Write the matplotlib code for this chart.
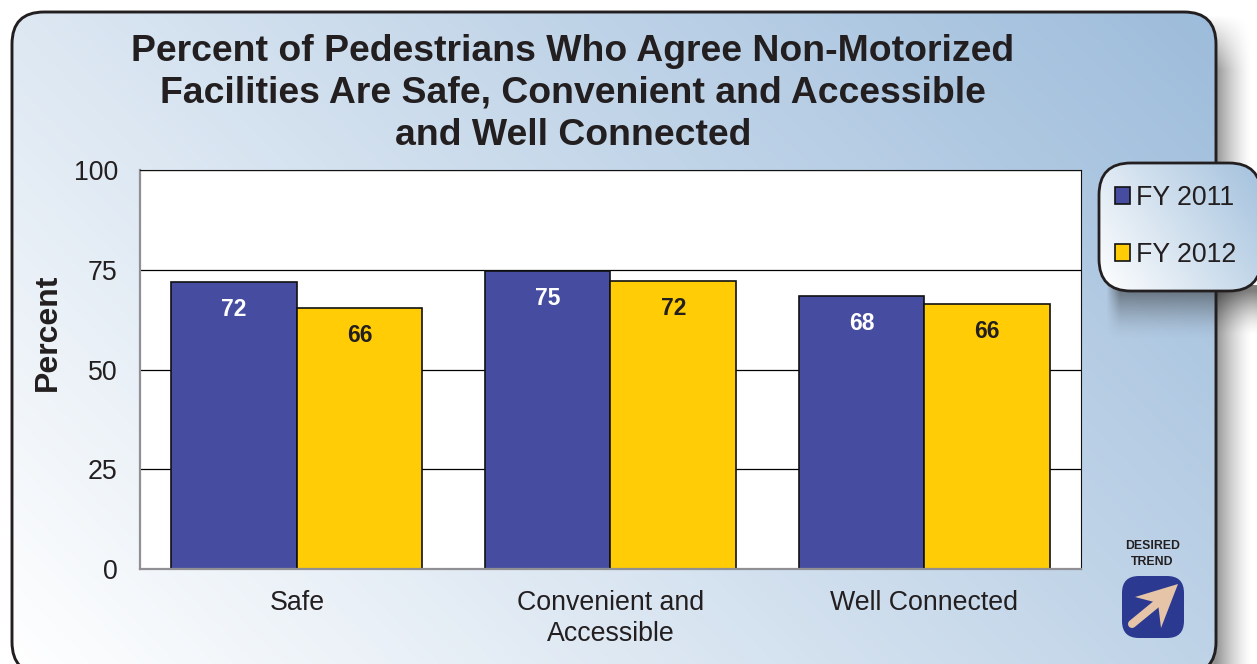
import numpy as np
import matplotlib
matplotlib.use("Agg")
import matplotlib.pyplot as plt
from matplotlib.patches import FancyBboxPatch, Polygon
from matplotlib.colors import LinearSegmentedColormap

plt.rcParams['font.family'] = ['Liberation Sans', 'DejaVu Sans']

# datos
title = "Percent of Pedestrians Who Agree Non-Motorized\nFacilities Are Safe, Convenient and Accessible\nand Well Connected"
categories = ["Safe", "Convenient and\nAccessible", "Well Connected"]
fy2011 = [71.9, 74.7, 68.3]
fy2012 = [65.4, 72.2, 66.3]
labels2011 = ["72", "75", "68"]
labels2012 = ["66", "72", "66"]
yticks = [0, 25, 50, 75, 100]

W, H = 1257, 664
fig = plt.figure(figsize=(W / 100, H / 100), dpi=100, facecolor="white")

# capa de fondo en pixeles
bg = fig.add_axes([0, 0, 1, 1], zorder=0)


def box(x0, y0, x1, y1, r, **kw):
    p = FancyBboxPatch((x0, y0), x1 - x0, y1 - y0,
                       boxstyle="round,pad=0,rounding_size=%g" % r, **kw)
    bg.add_patch(p)
    return p


def outline(patch, **kw):
    # la curva se rompe si Agg recorta el patch sin relleno, asi que va como poligono
    pts = patch.get_path().to_polygons(closed_only=False)[0]
    bg.add_patch(Polygon(pts[:-1], closed=True, fill=False, joinstyle="round", **kw))


def gradient(x0, y0, x1, y1, patch, cmap, zorder):
    xx, yy = np.meshgrid(np.linspace(0, 1, 300), np.linspace(0, 1, 300))
    img = bg.imshow(0.65 * xx + 0.35 * yy, extent=(x0, x1, y0, y1), origin="lower",
                    cmap=cmap, vmin=0, vmax=1, aspect="auto", zorder=zorder)
    img.set_clip_path(patch)


# sombra del panel, a la derecha, como imagen opaca de toda la figura
px, py = np.meshgrid(np.arange(W) + 0.5, np.arange(H) + 0.5)
fade_x = np.clip(1 - (px - 1216) / 36, 0, 1) ** 1.4 * (px > 1200)
fade_y = np.clip((py - 15) / 55, 0, 1)
grey = 1 - 0.42 * fade_x * fade_y
# la sombra de la leyenda sigue fuera del panel
fade_leg = np.clip(1 - (py - 291) / 45, 0, 1) * (py >= 285)
grey = grey * (1 - 0.5 * fade_leg ** 1.5 * (px > 1216))
bg.imshow(grey, extent=(0, W, H, 0), cmap="gray", vmin=0, vmax=1, aspect="auto", zorder=1)

panel_cmap = LinearSegmentedColormap.from_list("panel", ["#ffffff", "#9dbcdb"])
panel = box(12, 12, 1216, 674, 32, fc="none", ec="none", zorder=2)
gradient(12, 674, 1216, 12, panel, panel_cmap, 2)
outline(panel, edgecolor="#231f20", lw=2.1, zorder=5)

# sombra de la leyenda sobre el panel
xs = np.linspace(0, 1, 110)
ys = np.linspace(0, 1, 60)
alpha = 0.6 * np.outer((1 - ys) ** 1.5, np.clip(xs * 8, 0, 1))
img = np.zeros(alpha.shape + (4,))
img[..., :3] = 0.15
img[..., 3] = alpha
bg.imshow(img, extent=(1106, 1216, 340, 285), aspect="auto", zorder=4)

legend_cmap = LinearSegmentedColormap.from_list("legend", ["#ffffff", "#a3c1dd"])
legend_box = box(1099, 163, 1261, 291, 32, fc="none", ec="none", zorder=6)
gradient(1099, 291, 1261, 163, legend_box, legend_cmap, 6)
outline(legend_box, edgecolor="#231f20", lw=2.0, zorder=7)

# icono de tendencia
bg.text(1152.5, 546, "DESIRED", fontsize=8.8, fontweight="bold", color="#231f20",
        ha="center", va="center", zorder=6)
bg.text(1152.5, 562, "TREND", fontsize=8.8, fontweight="bold", color="#231f20",
        ha="center", va="center", zorder=6)
box(1122, 576, 1184, 638, 17, fc="#2b3990", ec="none", zorder=6)
bg.add_patch(Polygon([(1178, 584), (1135, 597), (1158, 603), (1161, 628)],
                     closed=True, fc="#e6c4a8", ec="none", zorder=7))
bg.plot([1132, 1160], [624, 601], color="#e6c4a8", lw=5.8, solid_capstyle="round", zorder=7)

bg.set_xlim(0, W)
bg.set_ylim(H, 0)
bg.axis("off")

# grafico
ax = fig.add_axes([140 / W, 1 - 569 / H, 941 / W, 399 / H], zorder=1)
ax.set_facecolor("white")
x = np.arange(len(categories))
w = 0.4
ax.set_axisbelow(True)
ax.yaxis.grid(True, color="black", lw=0.9)
b1 = ax.bar(x - w / 2, fy2011, w, color="#464da0", edgecolor="#111111", lw=1.2, label="FY 2011")
b2 = ax.bar(x + w / 2, fy2012, w, color="#ffcc05", edgecolor="#111111", lw=1.2, label="FY 2012")
ax.bar_label(b1, labels2011, padding=-28, color="white", fontsize=16.5, fontweight="bold")
ax.bar_label(b2, labels2012, padding=-28, color="#231f20", fontsize=16.5, fontweight="bold")

ax.set_xlim(-0.5, 2.5)
ax.set_ylim(0, 100)
ax.set_yticks(yticks)
ax.set_xticks(x)
ax.set_xticklabels(categories, linespacing=1.25)
ax.tick_params(axis="both", length=0, labelsize=19.3, labelcolor="#231f20")
ax.tick_params(axis="x", pad=15)
ax.tick_params(axis="y", pad=16)
ax.spines["left"].set_color("#8f8f94")
ax.spines["bottom"].set_color("#8f8f94")
ax.spines["left"].set_linewidth(1.6)
ax.spines["bottom"].set_linewidth(1.6)
ax.spines["top"].set_color("#111111")
ax.spines["right"].set_color("#111111")
ax.set_ylabel("Percent", fontsize=23, fontweight="bold", color="#231f20")
ax.yaxis.set_label_coords(-0.082, 0.593)

fig.text(573 / W, 1 - 93.5 / H, title, fontsize=26.9, fontweight="bold", color="#231f20",
         ha="center", va="center", linespacing=1.27)

ax.legend(loc="upper left", bbox_to_anchor=(1115 / W, 1 - 185 / H), bbox_transform=fig.transFigure,
          frameon=False, fontsize=19.3, labelcolor="#231f20", handlelength=0.56, handleheight=0.56,
          handletextpad=0.24, labelspacing=1.16, borderpad=0, borderaxespad=0)

fig.savefig("out.png", dpi=100)
